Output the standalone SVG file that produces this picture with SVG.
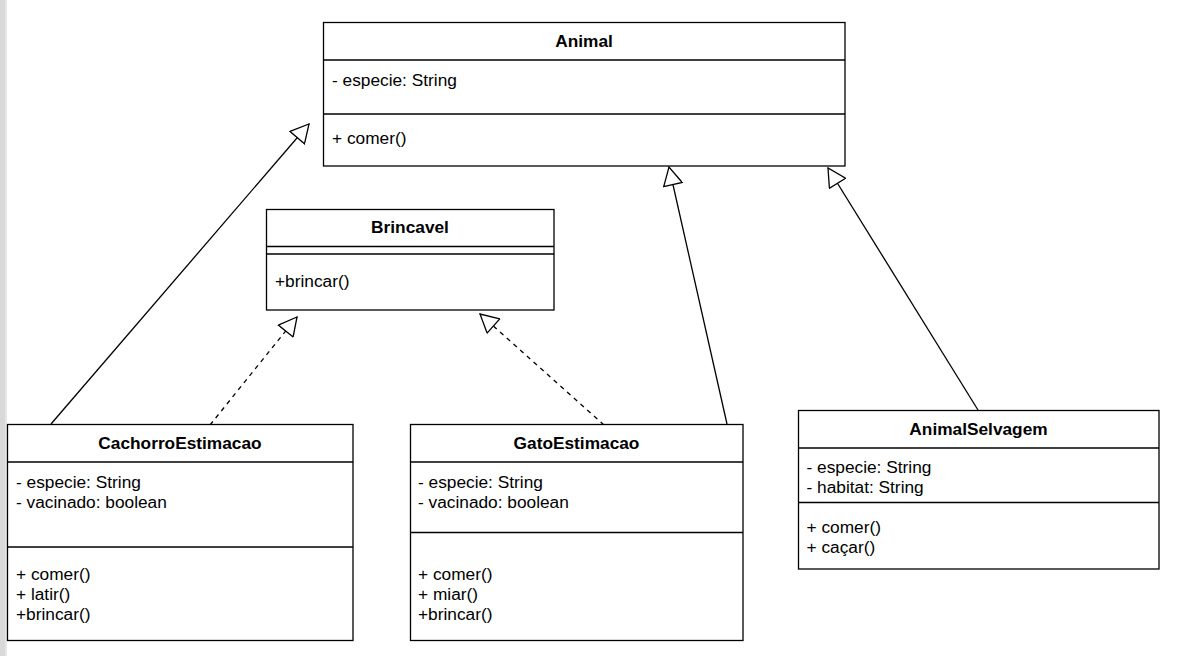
<svg xmlns="http://www.w3.org/2000/svg" width="1185" height="656" viewBox="0 0 1185 656">
<style>
.box{fill:#fff;stroke:#000;stroke-width:1.3}
.sep{stroke:#000;stroke-width:1.3;fill:none}
.t{font-family:"Liberation Sans",Arial,Helvetica,sans-serif;font-size:17.3px;fill:#000}
.b{font-weight:bold;text-anchor:middle}
.edge{stroke:#000;stroke-width:1.3;fill:none;marker-end:url(#gen)}
.dash{stroke-dasharray:4.5 4.5}
</style>
<defs>
<marker id="gen" viewBox="0 0 20 20" refX="19" refY="10" markerWidth="20" markerHeight="20" markerUnits="userSpaceOnUse" orient="auto">
<path d="M1,0.5 L19,10 L1,19.5 Z" fill="#fff" stroke="#000" stroke-width="1.3" stroke-linejoin="miter"/>
</marker>
</defs>
<rect x="0" y="0" width="1185" height="656" fill="#fff"/>
<rect x="0" y="0" width="7" height="656" fill="#d9d9d9"/>
<rect x="5" y="0" width="2" height="656" fill="#e6e6e6"/>

<g id="connectors">
<path class="edge" d="M51,424 L309,124"/>
<path class="edge" d="M727,424 L669,167"/>
<path class="edge" d="M978,410 L828,168"/>
<path class="edge dash" d="M210,425 L297,317"/>
<path class="edge dash" d="M604,425 L480,314"/>
</g>

<g id="Animal">
<rect class="box" x="323.5" y="22.5" width="521.5" height="143.5"/>
<line class="sep" x1="323.5" y1="60" x2="845" y2="60"/>
<line class="sep" x1="323.5" y1="114" x2="845" y2="114"/>
<text class="t b" x="584" y="47">Animal</text>
<text class="t" x="332" y="85.5">- especie: String</text>
<text class="t" x="332" y="144">+ comer()</text>
</g>

<g id="Brincavel">
<rect class="box" x="266.5" y="209.5" width="287.5" height="100.5"/>
<line class="sep" x1="266.5" y1="246.5" x2="554" y2="246.5"/>
<line class="sep" x1="266.5" y1="254" x2="554" y2="254"/>
<text class="t b" x="410" y="233">Brincavel</text>
<text class="t" x="275" y="286.5">+brincar()</text>
</g>

<g id="CachorroEstimacao">
<rect class="box" x="7.5" y="424.5" width="345.5" height="216"/>
<line class="sep" x1="7.5" y1="462" x2="353" y2="462"/>
<line class="sep" x1="7.5" y1="547" x2="353" y2="547"/>
<text class="t b" x="180" y="449">CachorroEstimacao</text>
<text class="t" x="16" y="487.5">- especie: String</text>
<text class="t" x="16" y="507.5">- vacinado: boolean</text>
<text class="t" x="16" y="580">+ comer()</text>
<text class="t" x="16" y="600">+ latir()</text>
<text class="t" x="16" y="620">+brincar()</text>
</g>

<g id="GatoEstimacao">
<rect class="box" x="410.5" y="424.5" width="332.5" height="216"/>
<line class="sep" x1="410.5" y1="462" x2="743" y2="462"/>
<line class="sep" x1="410.5" y1="532.5" x2="743" y2="532.5"/>
<text class="t b" x="576.5" y="449">GatoEstimacao</text>
<text class="t" x="418" y="487.5">- especie: String</text>
<text class="t" x="418" y="507.5">- vacinado: boolean</text>
<text class="t" x="418" y="580">+ comer()</text>
<text class="t" x="418" y="600">+ miar()</text>
<text class="t" x="418" y="620">+brincar()</text>
</g>

<g id="AnimalSelvagem">
<rect class="box" x="798.5" y="410.5" width="360.5" height="158.5"/>
<line class="sep" x1="798.5" y1="448" x2="1159" y2="448"/>
<line class="sep" x1="798.5" y1="502.5" x2="1159" y2="502.5"/>
<text class="t b" x="978.5" y="435">AnimalSelvagem</text>
<text class="t" x="806.5" y="473">- especie: String</text>
<text class="t" x="806.5" y="493">- habitat: String</text>
<text class="t" x="806.5" y="533">+ comer()</text>
<text class="t" x="806.5" y="553">+ caçar()</text>
</g>
</svg>
